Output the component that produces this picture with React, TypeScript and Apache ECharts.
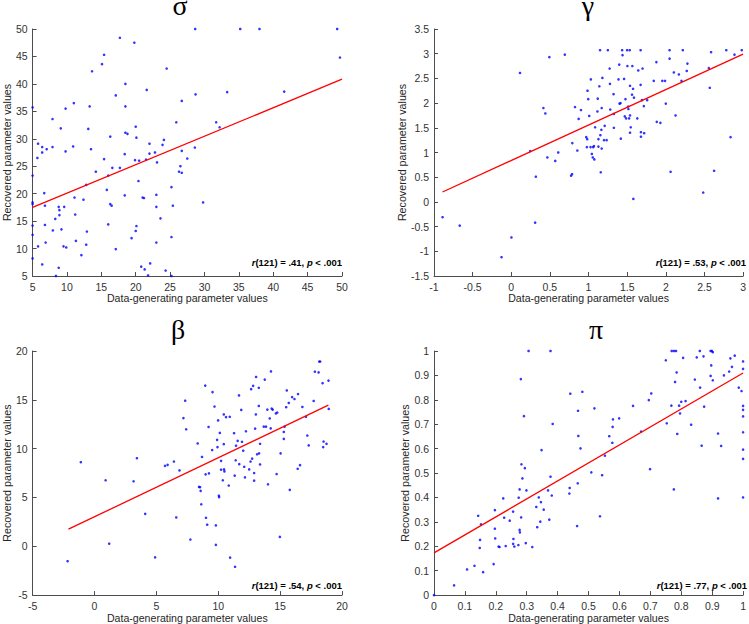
import React, { useEffect, useRef } from "react";
import * as echarts from "echarts";

// ---------- data ----------
const titles = ["σ", "γ", "β", "π"];
const stats = [".41", ".53", ".54", ".77"];
const dfText = "121";
const pText = ".001";
const xName = "Data-generating parameter values";
const yName = "Recovered parameter values";

const sigmaPoints = [
  [28.65, 50], [35.2, 50], [38.0, 50], [49.3, 50], [49.7, 44.8], [17.7, 48.4], [19.8, 47.5], [15.4, 45.3],
  [15.1, 43.6], [24.5, 42.8], [13.65, 42.3], [21.6, 38.9], [18.5, 40.0], [17.1, 37.9], [28.7, 38.1], [33.3, 38.5],
  [41.6, 38.6], [26.7, 36.9], [11.0, 36.5], [13.3, 35.9], [18.5, 35.9], [9.8, 35.5], [5, 35.7], [7.9, 33.6],
  [25.9, 33.0], [31.7, 33.0], [32.2, 32.1], [13.1, 31.8], [9.1, 31.9], [20.0, 32.2], [18.5, 31.1], [18.8, 30.9],
  [16.3, 30.4], [20.1, 30.2], [29.8, 18.4], [24.1, 29.8], [22.0, 29.1], [23.9, 28.9], [5.8, 29.1], [6.4, 28.5],
  [7.9, 28.5], [10.9, 28.6], [28.6, 28.4], [13.5, 28.1], [7.05, 28.1], [6.4, 27.5], [9.8, 27.7], [26.7, 27.8],
  [22.8, 27.5], [18.4, 27.2], [22.0, 27.3], [5.7, 26.5], [15.4, 26.3], [27.5, 26.4], [19.9, 26.1], [20.5, 26.0],
  [21.5, 26.2], [23.1, 25.7], [26.5, 25.0], [16.6, 24.7], [17.7, 24.7], [14.2, 24.0], [26.3, 24.0], [26.7, 23.8],
  [5, 23.3], [16.0, 23.3], [20.4, 22.3], [12.8, 21.6], [25.2, 21.2], [15.8, 20.7], [6.7, 20.1], [23.0, 19.8],
  [18.4, 19.7], [21.0, 19.3], [21.2, 19.2], [11.1, 19.3], [12.4, 18.9], [5, 18.4], [5, 18.1], [6.8, 17.8],
  [8.8, 17.6], [9.6, 17.6], [16.3, 18.1], [16.5, 17.8], [23.0, 17.6], [25.4, 17.8], [8.9, 17.0], [8.9, 16.1],
  [11.2, 16.2], [8.3, 15.4], [23.6, 15.5], [5, 14.2], [6.8, 14.3], [16.0, 14.4], [20.1, 14.1], [7.95, 13.3],
  [9.2, 13.5], [12.9, 13.1], [20.0, 13.2], [5, 12.5], [25.2, 12.1], [19.4, 11.9], [11.3, 11.4], [6.9, 11.1],
  [23.0, 11.1], [12.8, 10.7], [5.8, 10.4], [9.5, 10.4], [9.9, 10.2], [17.1, 9.9], [12.1, 8.8], [5, 8.2],
  [6.4, 7.1], [22.1, 7.3], [20.8, 6.7], [21.3, 6.2], [8.8, 6.5], [24.35, 6.0], [21.8, 5.1], [8.4, 5], [25.2, 5],
];

const gammaPoints = [
  [-0.889, -0.31], [-0.667, -0.48], [-0.126, -1.12], [0.002, -0.72], [0.309, -0.42], [0.318, 0.51], [0.245, 1.03],
  [0.113, 2.61], [0.493, 2.93], [0.693, 2.98], [0.416, 1.9], [0.441, 1.79], [0.467, 0.9], [0.569, 0.83],
  [0.608, 1.0], [0.774, 0.53], [0.787, 0.56], [0.79, 1.19], [0.825, 1.92], [0.855, 1.04], [0.872, 1.68],
  [0.902, 1.86], [0.97, 1.31], [0.983, 1.27], [0.979, 1.11], [0.987, 2.25], [0.996, 2.08], [1.009, 1.74],
  [1.03, 2.48], [1.026, 1.11], [1.043, 0.97], [1.06, 1.11], [1.07, 1.13], [1.055, 0.9], [1.075, 0.86],
  [1.085, 1.51], [1.119, 2.09], [1.115, 1.83], [1.128, 1.27], [1.128, 1.12], [1.14, 2.34], [1.149, 3.07],
  [1.153, 1.35], [1.17, 1.08], [1.158, 0.6], [1.166, 1.46], [1.17, 1.9], [1.179, 2.51], [1.209, 1.54],
  [1.2, 1.25], [1.234, 1.25], [1.25, 3.07], [1.273, 2.7], [1.277, 2.39], [1.281, 1.87], [1.324, 2.18],
  [1.328, 1.78], [1.328, 1.5], [1.397, 2.78], [1.388, 2.48], [1.401, 1.99], [1.414, 2.0], [1.418, 1.28],
  [1.435, 3.07], [1.44, 2.97], [1.46, 2.49], [1.469, 1.73], [1.478, 2.08], [1.486, 1.69], [1.499, 3.07],
  [1.503, 2.75], [1.516, 1.88], [1.512, 1.93], [1.525, 1.69], [1.533, 3.07], [1.537, 2.35], [1.537, 1.75],
  [1.546, 1.51], [1.537, 1.4], [1.563, 2.17], [1.567, 2.75], [1.576, 2.29], [1.588, 2.11], [1.58, 0.06],
  [1.631, 1.69], [1.644, 2.66], [1.674, 3.07], [1.674, 2.37], [1.678, 1.41], [1.678, 1.32], [1.691, 2.06],
  [1.699, 2.7], [1.716, 1.94], [1.72, 1.39], [1.759, 2.06], [1.844, 2.45], [1.878, 2.83], [1.883, 1.62],
  [1.93, 1.6], [1.955, 2.45], [1.99, 2.45], [2.0, 1.99], [2.049, 3.07], [2.049, 2.9], [2.062, 0.61],
  [2.104, 2.62], [2.126, 1.75], [2.169, 2.58], [2.203, 2.45], [2.22, 3.07], [2.271, 2.65], [2.28, 2.8],
  [2.557, 2.71], [2.569, 2.31], [2.586, 3.03], [2.484, 0.19], [2.625, 0.63], [2.838, 1.31], [2.783, 3.07],
  [2.889, 2.98], [2.983, 3.07],
];

const betaPoints = [
  [-2.17, -1.53], [-1.1, 8.61], [0.9, 6.76], [1.19, 0.26], [3.16, 6.66], [3.43, 9.02], [4.1, 3.32], [4.9, -1.13],
  [5.7, 8.24], [5.91, 8.34], [6.42, 8.68], [6.61, 2.95], [6.87, 7.77], [7.19, 13.13], [7.33, 14.91], [7.41, 11.98],
  [7.75, 0.69], [8.34, 10.53], [8.45, 6.08], [8.53, 6.05], [8.58, 5.68], [8.63, 4.3], [8.69, 9.15], [8.95, 16.46],
  [8.98, 7.37], [9.01, 2.92], [9.11, 2.21], [9.22, 12.22], [9.25, 7.47], [9.54, 15.79], [9.51, 9.86], [9.7, 14.31],
  [9.81, 2.14], [9.81, 0.15], [9.91, 10.9], [9.94, 10.16], [9.99, 12.89], [10.05, 5.18], [10.07, 5.04], [10.13, 11.61],
  [10.23, 8.75], [10.23, 7.84], [10.37, 6.76], [10.45, 13.5], [10.45, 10.46], [10.47, 7.87], [10.5, 7.67], [10.63, 13.23],
  [10.85, 6.22], [10.93, 13.26], [10.96, -1.16], [11.28, 11.58], [11.33, 7.23], [11.36, -2.1], [11.41, 8.81], [11.44, 10.3],
  [11.57, 10.8], [11.68, 15.45], [11.7, 8.41], [11.86, 13.97], [11.92, 10.7], [12.02, 9.79], [12.1, 8.14], [12.16, 7.06],
  [12.24, 11.78], [12.5, 7.87], [12.61, 8.68], [12.66, 16.09], [12.74, 8.98], [12.82, 16.43], [12.9, 7.5], [12.9, 6.72],
  [12.98, 12.05], [13.04, 13.5], [13.06, 17.34], [13.14, 9.42], [13.28, 16.23], [13.28, 14.37], [13.3, 9.52], [13.38, 10.5],
  [13.38, 8.38], [13.68, 12.25], [13.76, 17.07], [13.86, 12.25], [13.97, 14.0], [14.02, 6.35], [14.16, 13.09], [14.24, 12.08],
  [14.26, 17.91], [14.32, 14.1], [14.4, 14.0], [14.66, 13.6], [14.72, 7.4], [14.77, 13.7], [14.98, 0.96], [15.04, 9.52],
  [15.3, 11.0], [15.3, 11.71], [15.36, 12.25], [15.49, 14.24], [15.54, 15.96], [15.7, 14.68], [15.78, 5.78], [15.97, 15.28],
  [16.16, 15.08], [16.42, 7.94], [16.45, 15.59], [16.61, 8.31], [16.8, 14.27], [17.09, 13.26], [17.2, 11.34], [17.31, 10.33],
  [17.71, 14.88], [17.81, 17.88], [18.11, 17.81], [18.16, 18.92], [18.24, 18.92], [18.43, 16.7], [18.48, 10.16], [18.51, 10.73],
  [18.75, 10.5], [18.91, 16.97], [18.93, 14.07],
];

const piPoints = [
  [0, 0], [0.065, 0.04], [0.107, 0.105], [0.131, 0.12], [0.143, 0.325], [0.148, 0.193], [0.149, 0.226], [0.152, 0.29],
  [0.159, 0.094], [0.193, 0.127], [0.197, 0.348], [0.197, 0.272], [0.198, 0.232], [0.209, 0.199], [0.212, 0.197], [0.224, 0.396],
  [0.227, 0.317], [0.232, 0.201], [0.245, 0.305], [0.256, 0.342], [0.256, 0.21], [0.257, 0.23], [0.26, 0.199], [0.273, 0.205],
  [0.274, 0.399], [0.277, 0.433], [0.277, 0.267], [0.278, 0.257], [0.281, 0.885], [0.282, 0.318], [0.283, 0.536], [0.286, 0.478],
  [0.291, 0.733], [0.294, 0.52], [0.297, 0.213], [0.299, 0.429], [0.306, 1.0], [0.318, 0.197], [0.331, 0.361], [0.334, 0.278],
  [0.339, 0.4], [0.344, 0.301], [0.346, 0.381], [0.348, 0.594], [0.355, 0.35], [0.369, 0.429], [0.373, 0.309], [0.377, 1.0],
  [0.377, 0.485], [0.381, 0.408], [0.384, 0.701], [0.438, 0.416], [0.439, 0.439], [0.441, 0.825], [0.463, 0.283], [0.465, 0.458],
  [0.466, 0.755], [0.467, 0.652], [0.474, 0.601], [0.48, 0.833], [0.509, 0.503], [0.519, 0.765], [0.537, 0.323], [0.544, 0.491],
  [0.553, 0.571], [0.567, 0.651], [0.577, 0.624], [0.578, 0.689], [0.579, 0.72], [0.599, 0.724], [0.644, 0.775], [0.67, 0.67],
  [0.695, 0.799], [0.699, 0.516], [0.703, 0.826], [0.75, 0.962], [0.753, 0.704], [0.768, 0.776], [0.769, 1.0], [0.776, 1.0],
  [0.776, 0.433], [0.78, 0.873], [0.783, 1.0], [0.785, 0.912], [0.787, 0.66], [0.793, 0.776], [0.796, 0.744], [0.8, 0.792],
  [0.806, 0.972], [0.814, 0.795], [0.832, 0.698], [0.844, 0.883], [0.85, 0.974], [0.86, 1.0], [0.861, 0.85], [0.866, 0.612],
  [0.872, 0.978], [0.874, 0.772], [0.895, 0.898], [0.895, 1.0], [0.897, 0.941], [0.899, 1.0], [0.902, 0.995], [0.902, 0.88],
  [0.919, 0.396], [0.919, 0.662], [0.929, 0.611], [0.938, 0.9], [0.955, 0.916], [0.959, 0.97], [0.964, 0.935], [0.973, 0.981],
  [0.986, 0.85], [0.995, 0.836], [1.0, 0.957], [1.0, 0.927], [1.0, 0.775], [1.0, 0.759], [1.0, 0.732], [1.0, 0.667],
  [1.0, 0.596], [1.0, 0.558], [1.0, 0.4],
];

const sigmaFit = [[5, 17.5], [50, 40.85]];
const gammaFit = [[-0.89, 0.2], [3, 2.99]];
const betaFit = [[-2.1, 1.75], [18.9, 14.45]];
const piFit = [[0, 0.173], [1, 0.91]];

// axis ranges [min, max, interval]
const xRanges = [[5, 50, 5], [-1, 3, 0.5], [-5, 20, 5], [0, 1, 0.1]];
const yRanges = [[5, 50, 5], [-1.5, 3.5, 0.5], [-5, 20, 5], [0, 1, 0.1]];

// ---------- layout ----------
const grids = [
  { left: 28, top: 29, width: 314, height: 247 },
  { left: 434, top: 29, width: 312, height: 247 },
  { left: 30, top: 351, width: 312, height: 248 },
  { left: 434, top: 351, width: 313, height: 248 },
];
const yNameGaps = [18, 25, 19.5, 21.5];
const titlePos = [[180, 5], [588, 5], [178, 329], [596, 329]];

const AXIS = "#4d4d4d";
const LABEL = "#333333";
const SANS = "'Liberation Sans', Arial, Helvetica, sans-serif";

function buildOption() {
  const pointSets = [sigmaPoints, gammaPoints, betaPoints, piPoints];
  const fits = [sigmaFit, gammaFit, betaFit, piFit];

  const xAxis = xRanges.map((r, i) => ({
    type: "value",
    gridIndex: i,
    min: r[0],
    max: r[1],
    interval: r[2],
    name: xName,
    nameLocation: "middle",
    nameGap: 14,
    nameTextStyle: { color: "#262626", fontSize: 10.6, fontFamily: SANS },
    axisLine: { show: true, onZero: false, lineStyle: { color: AXIS, width: 1 } },
    axisTick: { show: true, inside: true, length: 4, lineStyle: { color: AXIS } },
    axisLabel: { color: LABEL, fontSize: 10.5, fontFamily: SANS, margin: 5 },
    splitLine: { show: false },
  }));
  const yAxis = yRanges.map((r, i) => ({
    type: "value",
    gridIndex: i,
    min: r[0],
    max: r[1],
    interval: r[2],
    name: yName,
    nameLocation: "middle",
    nameGap: yNameGaps[i],
    nameTextStyle: { color: "#262626", fontSize: 10.7, fontFamily: SANS },
    axisLine: { show: true, onZero: false, lineStyle: { color: AXIS, width: 1 } },
    axisTick: { show: true, inside: true, length: 4, lineStyle: { color: AXIS } },
    axisLabel: { color: LABEL, fontSize: 10.5, fontFamily: SANS, margin: 5 },
    splitLine: { show: false },
  }));

  const series: any[] = [];
  pointSets.forEach((pts, i) => {
    series.push({
      type: "scatter",
      xAxisIndex: i,
      yAxisIndex: i,
      data: pts,
      symbol: "circle",
      symbolSize: 2.6,
      itemStyle: { color: "#0000ff" },
      clip: false,
      z: 2,
    });
    series.push({
      type: "line",
      xAxisIndex: i,
      yAxisIndex: i,
      data: fits[i],
      symbol: "none",
      lineStyle: { color: "#ff0000", width: 1.3 },
      z: 3,
    });
  });

  const graphic: any[] = [];
  titles.forEach((t, i) => {
    graphic.push({
      type: "text",
      x: titlePos[i][0],
      y: titlePos[i][1],
      style: {
        text: t,
        fontSize: 28,
        fontFamily: "'Liberation Serif', 'Times New Roman', serif",
        fill: "#000",
        align: "center",
        textAlign: "center",
        verticalAlign: "middle",
        textVerticalAlign: "middle",
      },
    });
  });
  const bold = { fontSize: 9.5, fontWeight: "bold", fontFamily: SANS, fill: "#000", color: "#000" };
  stats.forEach((s, i) => {
    const g = grids[i];
    graphic.push({
      type: "text",
      x: g.left + g.width,
      y: g.top + g.height - 14,
      style: {
        text: `{i|r}{n|(${dfText}) = ${s}, }{i|p}{n| < ${pText}}`,
        align: "right",
        textAlign: "right",
        verticalAlign: "middle",
        textVerticalAlign: "middle",
        rich: {
          i: { ...bold, fontStyle: "italic" },
          n: { ...bold },
        },
      },
    });
  });

  return {
    animation: false,
    backgroundColor: "#ffffff",
    grid: grids.map((g) => ({ ...g, containLabel: false })),
    xAxis,
    yAxis,
    series,
    graphic,
  };
}

export default function App() {
  const ref = useRef<HTMLDivElement>(null);
  useEffect(() => {
    if (!ref.current) return;
    const chart = echarts.init(ref.current, null, { renderer: "svg" });
    chart.setOption(buildOption() as any);
    return () => chart.dispose();
  }, []);
  return (
    <div
      ref={ref}
      style={{ position: "absolute", left: 0, top: 0, width: 749, height: 624, background: "#fff" }}
    />
  );
}
